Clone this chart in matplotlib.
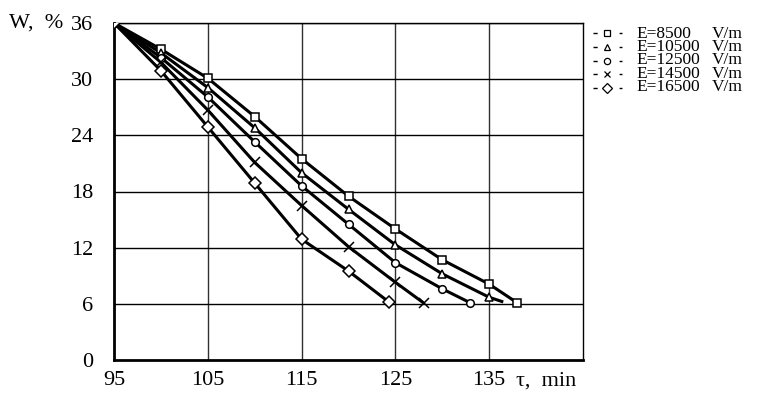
import matplotlib
matplotlib.use("Agg")
import matplotlib.pyplot as plt
from matplotlib.lines import Line2D

plt.rcParams['font.family'] = ['Liberation Serif', 'DejaVu Serif']

# Data
x_8500 = [95, 100, 105, 110, 115, 120, 125, 130, 135, 138]
w_8500 = [36, 33.2, 30.1, 26.0, 21.5, 17.5, 14.0, 10.7, 8.1, 6.1]
x_10500 = [95, 100, 105, 110, 115, 120, 125, 130, 135, 136.5]
w_10500 = [36, 32.8, 29.1, 24.8, 20.0, 16.1, 12.3, 9.2, 6.7, 6.2]
x_12500 = [95, 100, 105, 110, 115, 120, 125, 130, 133]
w_12500 = [36, 32.3, 28.1, 23.3, 18.6, 14.5, 10.4, 7.6, 6.1]
x_14500 = [95, 100, 105, 110, 115, 120, 125, 128]
w_14500 = [36, 31.8, 26.7, 21.1, 16.5, 12.1, 8.3, 6.1]
x_16500 = [95, 100, 105, 110, 115, 120, 124.3]
w_16500 = [36, 30.9, 24.9, 18.9, 12.9, 9.5, 6.2]

labels_e = ["E=8500", "E=10500", "E=12500", "E=14500", "E=16500"]
unit = "V/m"
xticks = [95, 105, 115, 125, 135]
yticks = [0, 6, 12, 18, 24, 30, 36]

W, H = 758, 393
fig = plt.figure(figsize=(W / 100, H / 100), dpi=100)
ax = fig.add_axes([114 / W, 1 - 360 / H, (583 - 114) / W, (360 - 23) / H])
ax.set_xlim(95, 145)
ax.set_ylim(0, 36)

for v in [105, 115, 125, 135]:
    ax.axvline(v, color='#303030', lw=1.0, zorder=1)
for v in [6, 12, 18, 24, 30, 36]:
    ax.axhline(v, color='black', lw=1.0, zorder=1)

series = [
    (x_8500, w_8500, 's', 6.0, None),
    (x_10500, w_10500, '^', 6.0, list(range(len(x_10500) - 1))),
    (x_12500, w_12500, 'o', 5.5, None),
    (x_14500, w_14500, 'x', 6.5, None),
    (x_16500, w_16500, 'D', 6.5, None),
]
for xs, ws, m, ms, me in series:
    ax.plot(xs, ws, color='black', lw=2.2, zorder=3, solid_capstyle='butt')
    ax.plot(xs, ws, ls='none', marker=m, ms=ms, mfc='white', mec='black',
            mew=1.1, zorder=4, markevery=me)

ax.set_xticks(xticks)
ax.set_yticks(yticks)
ax.tick_params(axis='both', length=0, labelsize=16)
ax.tick_params(axis='x', pad=8)
ax.tick_params(axis='y', pad=15)
for s in ['left', 'bottom']:
    ax.spines[s].set_linewidth(2.0)
for s in ['top', 'right']:
    ax.spines[s].set_linewidth(1.0)

fig.text(9 / W, 1 - 23 / H, "W,  %", fontsize=16, ha='left', va='center')
fig.text(516 / W, 1 - 381 / H, "τ,  min", fontsize=16, ha='left', va='center')

# legend drawn manually
rows = [33, 47, 61, 74, 88]
mk = ['s', '^', 'o', 'x', 'D']
msz = [5, 5, 4.5, 5, 5.5]
for i, y in enumerate(rows):
    yy = 1 - y / H
    ln = Line2D([593 / W, 622 / W], [yy, yy], transform=fig.transFigure,
                color='black', lw=1.0, ls=(0, (3, 15.8)))
    fig.add_artist(ln)
    mkl = Line2D([607 / W], [yy], transform=fig.transFigure, ls='none',
                 marker=mk[i], ms=msz[i], mfc='white', mec='black', mew=0.9)
    fig.add_artist(mkl)

ymid = 1 - (rows[0] + rows[-1]) / 2 / H
fig.text(636 / W, ymid, "\n".join(labels_e), fontsize=12.5, ha='left',
         va='center', linespacing=0.78)
fig.text(712 / W, ymid, "\n".join([unit] * len(labels_e)), fontsize=12.5,
         ha='left', va='center', linespacing=0.78)

fig.savefig("out.png", dpi=100)
